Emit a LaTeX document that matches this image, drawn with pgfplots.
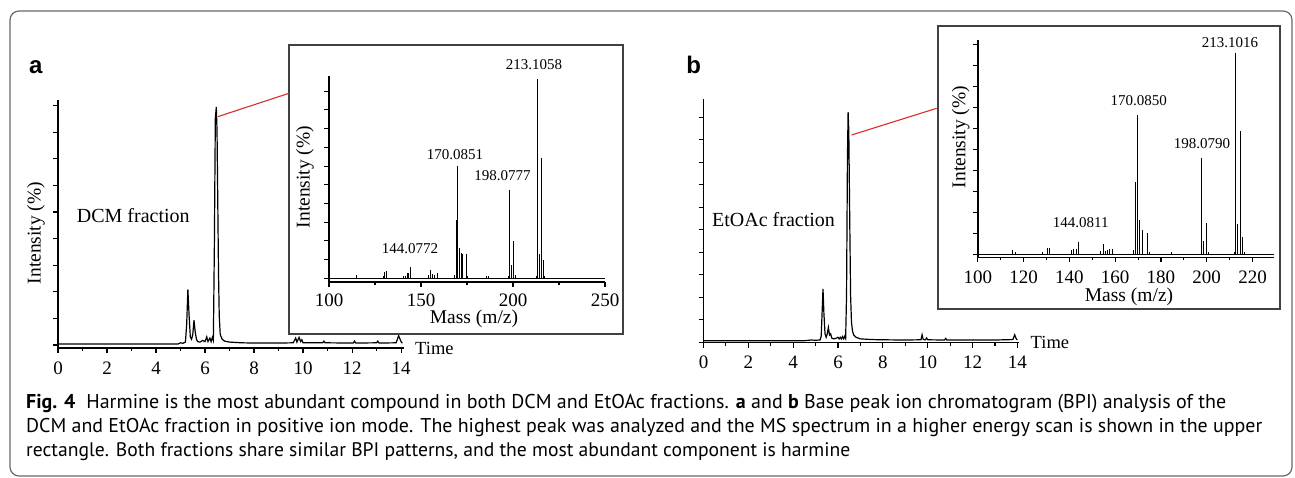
\documentclass[border=0pt]{standalone}
\usepackage{graphicx}
\usepackage{fontspec}
\setmainfont{Liberation Serif}
\newfontfamily\capfont{PT Sans}
\newfontfamily\letterfont{Liberation Sans}
\usepackage{pgfplots}
\pgfplotsset{compat=1.18}
\definecolor{zoomred}{RGB}{215,45,45}
\definecolor{framegray}{RGB}{105,105,105}
\definecolor{boxgray}{RGB}{65,65,65}
\pgfplotsset{
  msbase/.style={scale only axis, anchor=south west, axis lines*=left,
    axis line style={line width=1.4pt},
    every tick/.style={black, line width=1.1pt},
    tick align=outside, major tick length=5pt, minor tick length=3pt,
    yticklabels={},
    /pgf/number format/assume math mode=true,
    xticklabel style={font=\fontsize{19}{19}\selectfont, yshift=-5pt},
  }
}
\begin{document}
\begin{tikzpicture}[x=1pt,y=1pt]
\path (0,0) rectangle (1295,478);
\draw[framegray, line width=1.2pt, rounded corners=9pt] (10,2) rectangle (1292,467);

% ---------- panel a main chromatogram
\begin{axis}[msbase, at={(58pt,130pt)}, width=346pt, height=248pt,
  xmin=0, xmax=14.12, ymin=-1.69, ymax=102.95,
  xtick={0,2,...,14}, minor x tick num=1,
  ytick={-0.42,10.8,...,101}]
\addplot[black, line width=1.2pt] coordinates {
(0,0) (4.9,0) (5.0,0.5) (5.1,0.3) (5.2,0.8) (5.25,8) (5.3,23) (5.35,12) (5.4,3) (5.45,2) (5.5,4) (5.55,10) (5.6,5) (5.65,2) (5.7,1) (5.8,0.8) (5.9,1.5) (6.0,1) (6.07,3) (6.12,1) (6.2,2.5) (6.25,1) (6.3,2.8) (6.34,1.5) (6.38,40) (6.42,95) (6.46,100) (6.49,90) (6.52,60) (6.55,30) (6.58,12) (6.62,4) (6.7,2) (6.8,1.2) (7.0,0.8) (7.5,0.5) (8,0.4) (9,0.4) (9.6,0.5) (9.7,2.5) (9.75,0.8) (9.84,2.8) (9.9,1) (9.95,1.8) (10,0.5) (10.8,0.5) (10.85,1.2) (10.9,0.5) (12.05,0.4) (12.1,1.2) (12.15,0.4) (13,0.5) (13.05,1.2) (13.1,0.4) (13.8,0.5) (13.9,3.5) (14.0,1) (14.05,0.3)};
\end{axis}

% ---------- panel b main chromatogram
\begin{axis}[msbase, at={(703.5pt,135.3pt)}, width=315pt, height=243.7pt,
  xmin=0, xmax=14.05, ymin=-0.87, ymax=105.7,
  xtick={0,2,...,14}, minor x tick num=1,
  ytick={-0.7,9.14,...,99}]
\addplot[black, line width=1.2pt] coordinates {
(0,0) (4.5,0) (4.8,0.3) (5.0,0.2) (5.2,0.3) (5.25,2) (5.3,15) (5.33,22.7) (5.37,12) (5.42,3) (5.47,1.5) (5.52,3) (5.57,5.8) (5.62,2.5) (5.67,3) (5.72,1.2) (5.8,0.8) (5.9,1) (6.0,1.5) (6.05,0.8) (6.1,1.5) (6.15,0.8) (6.2,1.8) (6.25,0.8) (6.3,2) (6.34,1) (6.38,20) (6.42,80) (6.45,100) (6.48,92) (6.52,55) (6.56,20) (6.6,8) (6.65,4) (6.7,2.5) (6.8,1.5) (7.0,0.8) (7.5,0.5) (8,0.4) (9,0.3) (9.7,0.4) (9.75,2.6) (9.8,0.5) (9.9,0.4) (9.95,1.2) (10,0.4) (10.75,0.3) (10.8,1) (10.85,0.3) (12,0.3) (13,0.3) (13.8,0.5) (13.88,2.6) (13.95,0.8) (14.0,0.3)};
\end{axis}

% ---------- inset boxes
\draw[boxgray, line width=1.3pt, fill=white] (289,144) rectangle (623,433);
\draw[boxgray, line width=1.3pt, fill=white] (938,169) rectangle (1280,452);

% ---------- inset a spectrum
\begin{axis}[msbase, at={(329pt,196pt)}, width=276pt, height=206pt,
  xmin=100, xmax=250, ymin=-2.0, ymax=101.5,
  xtick={100,150,200,250}, minor x tick num=1,
  xticklabel style={yshift=2pt},
  ytick={-0.15,9.25,...,95}]
\addplot[black, line width=0.8pt] coordinates {(100,0) (250,0)};
\addplot[ycomb, black, line width=0.8pt] coordinates {
(115,1.5)(129.5,1)(130.3,3.2)(131.2,3.7)(140.5,0.8)(141.3,1)(142.4,2.3)(143.1,2.6)(144.1,5.7)(154.1,1.5)(155.2,4)(156.3,2)(157.4,1.5)(158.8,2.6)(168.4,1.3)(169.0,29.1)(169.9,56.3)(170.9,14.9)(171.8,12.7)(172.7,12.2)(174.5,12)(175.3,1.2)(185.3,1)(186.5,1.2)(197.3,1)(198.1,44.2)(199,6.5)(200.2,18.6)(201.2,1.5)(212.5,1)(213.2,100)(214.1,11.9)(215.2,60.5)(216.3,9)(217.1,1)};
\end{axis}

% ---------- inset b spectrum
\begin{axis}[msbase, at={(977.8pt,220.7pt)}, width=296pt, height=217pt,
  xmin=100, xmax=229.3, ymin=-1.6, ymax=106.1,
  xtick={100,120,...,220}, minor x tick num=1,
  ytick={0,10.41,...,105}]
\addplot[black, line width=0.8pt] coordinates {(100,0) (229.3,0)};
\addplot[ycomb, black, line width=0.8pt] coordinates {
(114.9,2)(116.5,0.8)(128.4,1.2)(130.2,2.8)(131.1,3.1)(141,2)(141.9,2.3)(143,2.3)(144,6.1)(153.5,1.6)(154.8,4.8)(155.7,1.6)(156.6,2)(157.6,2.3)(159,2.3)(167.9,2)(168.8,35.9)(169.9,69.2)(170.8,16.9)(171.9,11.9)(173.9,10.6)(174.8,1.2)(184.6,1.2)(197.6,47.6)(198.6,6.6)(199.7,15.5)(200.8,1.2)(212.1,1)(212.5,100)(213.6,14.9)(214.5,61)(215.5,8.6)(216.4,1)};
\end{axis}

% ---------- red zoom lines
\draw[zoomred, line width=1.1pt] (217.7,361.3) -- (289,384.7);
\draw[zoomred, line width=1.1pt] (851.6,343) -- (936.7,369.7);

% ---------- texts
\node[anchor=base west, inner sep=0pt, font=\letterfont\bfseries\fontsize{24}{24}\selectfont] at (29,404) {a};
\node[anchor=base west, inner sep=0pt, font=\letterfont\bfseries\fontsize{24}{24}\selectfont] at (686.2,404) {b};

\node[rotate=90, inner sep=0pt, font=\fontsize{19.5}{19.5}\selectfont] at (36,245) {Intensity (\%)};
\node[anchor=base west, inner sep=0pt, font=\fontsize{20}{20}\selectfont] at (76.7,255.3) {DCM fraction};
\node[anchor=base west, inner sep=0pt, font=\fontsize{18.5}{18.5}\selectfont] at (415,123) {Time};

\node[rotate=90, inner sep=0pt, font=\fontsize{19.5}{19.5}\selectfont] at (305,301) {Intensity (\%)};
\node[anchor=base, inner sep=0pt, font=\fontsize{19.5}{19.5}\selectfont] at (474,154.7) {Mass (m/z)};
\node[anchor=base, inner sep=0pt, font=\fontsize{15}{15}\selectfont] at (534,408) {213.1058};
\node[anchor=base, inner sep=0pt, font=\fontsize{15}{15}\selectfont] at (455,318.7) {170.0851};
\node[anchor=base, inner sep=0pt, font=\fontsize{15}{15}\selectfont] at (502.5,297) {198.0777};
\node[anchor=base, inner sep=0pt, font=\fontsize{15}{15}\selectfont] at (410,224.7) {144.0772};

\node[anchor=base west, inner sep=0pt, font=\fontsize{20}{20}\selectfont] at (712,251.3) {EtOAc fraction};
\node[anchor=base west, inner sep=0pt, font=\fontsize{18.5}{18.5}\selectfont] at (1030.5,129.7) {Time};

\node[rotate=90, inner sep=0pt, font=\fontsize{19.5}{19.5}\selectfont] at (960.6,341) {Intensity (\%)};
\node[anchor=base, inner sep=0pt, font=\fontsize{19.5}{19.5}\selectfont] at (1129,176.3) {Mass (m/z)};
\node[anchor=base, inner sep=0pt, font=\fontsize{15}{15}\selectfont] at (1230,430.7) {213.1016};
\node[anchor=base, inner sep=0pt, font=\fontsize{15}{15}\selectfont] at (1138.7,372) {170.0850};
\node[anchor=base, inner sep=0pt, font=\fontsize{15}{15}\selectfont] at (1202,329.7) {198.0790};
\node[anchor=base, inner sep=0pt, font=\fontsize{15}{15}\selectfont] at (1080.7,250.3) {144.0811};

% ---------- caption
\node[anchor=base west, inner sep=0pt] at (26,69) {\resizebox{1200pt}{!}{\capfont\fontsize{18}{18}\selectfont\textbf{Fig. 4}\hspace{0.55em}Harmine is the most abundant compound in both DCM and EtOAc fractions. \textbf{a} and \textbf{b} Base peak ion chromatogram (BPI) analysis of the}};
\node[anchor=base west, inner sep=0pt] at (26,45) {\resizebox{1236pt}{!}{\capfont\fontsize{18}{18}\selectfont DCM and EtOAc fraction in positive ion mode. The highest peak was analyzed and the MS spectrum in a higher energy scan is shown in the upper}};
\node[anchor=base west, inner sep=0pt] at (26,21) {\resizebox{824pt}{!}{\capfont\fontsize{18}{18}\selectfont rectangle. Both fractions share similar BPI patterns, and the most abundant component is harmine}};
\end{tikzpicture}
\end{document}
